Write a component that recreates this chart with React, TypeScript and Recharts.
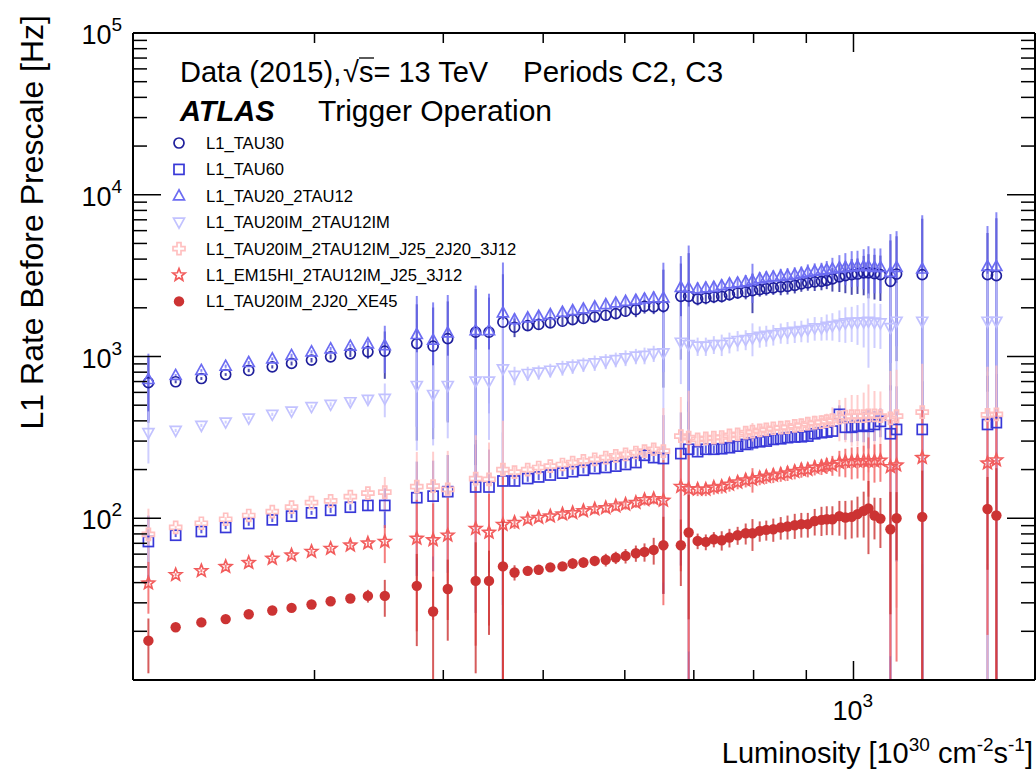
import React from 'react';
import { ScatterChart, Scatter, XAxis, YAxis, ErrorBar } from 'recharts';

const FONT = '"Liberation Sans", Arial, Helvetica, sans-serif';

// luminosity of each lumi-block group [10^30 cm-2 s-1]
const lumi = [
  207, 220, 233, 246, 259, 273, 285, 298, 311, 325, 338, 351,
  377, 391, 404, 430, 443,
  457, 469, 483, 495, 508, 522, 534, 547, 561, 575, 588, 601, 615, 627, 640, 654,
  680, 692, 706, 719, 732, 745, 758, 772, 786, 798, 811, 823, 836, 850, 863, 877, 890, 903, 917, 931,
  942, 954, 969, 982, 996, 1009, 1023, 1034, 1048, 1062, 1086, 1101, 1166, 1349, 1376,
];

const tau30 = [
  689, 698, 731, 774, 820, 863, 906, 949, 995, 1039, 1069, 1078,
  1202, 1158, 1291, 1413, 1413,
  1629, 1517, 1553, 1578, 1614, 1652, 1690, 1718, 1758, 1799, 1841, 1905, 1950, 2042, 2028, 2042,
  2355, 2355, 2270, 2301, 2336, 2355, 2415, 2472, 2506, 2553, 2594, 2630, 2655, 2692, 2716, 2754, 2812, 2851, 2891, 2917,
  2958, 3020, 3105, 3162, 3206, 3236, 3289, 3289, 3251, 3206, 2917, 3236, 3206, 3206, 3162,
];
const tau30Err = [
  300, 15, 15, 15, 20, 20, 25, 30, 35, 45, 100, 350,
  900, 850, 900, 1200, 900,
  1600, 200, 100, 100, 100, 100, 100, 120, 120, 130, 140, 150, 200, 200, 200, 1400,
  1400, 2000, 200, 200, 200, 200, 200, 200, 250, 700, 250, 250, 250, 300, 300, 300, 300, 300, 350, 350,
  350, 500, 600, 700, 800, 800, 900, 1000, 1000, 1000, 2300, 2300, 3900, 2600, 4000,
];

const tau60 = [
  71.8, 78.5, 82.8, 87.7, 92.8, 97.7, 103, 108, 112, 117, 120, 120,
  134, 137, 146, 156, 156,
  170, 170, 176, 180, 185, 190, 194, 198, 203, 206, 210, 215, 221, 245, 237, 234,
  251, 267, 258, 267, 267, 269, 273, 279, 286, 293, 297, 300, 307, 310, 315, 318, 319, 322, 333, 338,
  341, 346, 439, 365, 365, 370, 375, 370, 380, 397, 333, 354, 354, 380, 390,
];
const tau60Err = [
  32, 2, 2, 2, 3, 3, 3, 3, 4, 5, 8, 33,
  90, 90, 100, 130, 110,
  170, 12, 8, 8, 8, 8, 9, 9, 10, 10, 11, 12, 13, 14, 15, 200,
  200, 260, 15, 15, 15, 16, 16, 17, 18, 30, 18, 19, 20, 20, 21, 22, 22, 23, 24, 25,
  26, 28, 60, 60, 70, 70, 80, 100, 80, 80, 330, 300, 350, 380, 390,
];

const tau20 = [
  721, 764, 820, 871, 918, 968, 1015, 1069, 1116, 1158, 1197, 1169,
  1368, 1261, 1400, 1445, 1445,
  1862, 1690, 1734, 1774, 1816, 1878, 1923, 1968, 2028, 2094, 2143, 2193, 2228, 2270, 2301, 2301,
  2679, 2655, 2618, 2655, 2679, 2742, 2812, 2851, 2891, 2944, 3020, 3062, 3105, 3133, 3162, 3206, 3251, 3311, 3365, 3396,
  3443, 3475, 3532, 3556, 3581, 3606, 3606, 3606, 3556, 3556, 3311, 3556, 3475, 3606, 3606,
];
const tau20Err = [
  320, 15, 15, 20, 20, 20, 25, 25, 30, 35, 60, 380,
  1000, 900, 1000, 1300, 1000,
  1950, 150, 120, 120, 130, 130, 140, 140, 150, 150, 160, 170, 200, 200, 220, 1500,
  1500, 2200, 250, 250, 250, 250, 250, 250, 300, 800, 300, 300, 300, 350, 350, 350, 350, 400, 400, 400,
  450, 600, 700, 800, 900, 900, 1000, 1200, 1100, 1100, 2400, 2400, 4000, 2800, 4200,
];

const tau20im = [
  338, 349, 375, 393, 416, 439, 459, 490, 506, 525, 543, 551,
  662, 582, 662, 705, 705,
  839, 764, 785, 800, 822, 851, 871, 893, 914, 935, 957, 982, 1005, 1015, 1045, 1054,
  1225, 1186, 1158, 1158, 1186, 1186, 1225, 1256, 1274, 1303, 1334, 1349, 1368, 1400, 1413, 1432, 1445, 1468, 1503, 1503,
  1538, 1553, 1578, 1614, 1629, 1629, 1637, 1652, 1629, 1614, 1510, 1652, 1652, 1652, 1652,
];
const tau20imErr = [
  120, 8, 8, 8, 10, 10, 12, 12, 15, 20, 30, 130,
  400, 300, 350, 400, 400,
  850, 100, 80, 80, 80, 90, 90, 90, 100, 100, 100, 110, 110, 120, 120, 800,
  550, 850, 150, 150, 150, 180, 180, 180, 180, 300, 200, 200, 200, 200, 220, 220, 220, 250, 250, 250,
  280, 300, 350, 400, 400, 450, 500, 800, 500, 500, 1200, 1200, 1600, 1600, 1650,
];

const jets = [
  79.6, 87.7, 93.1, 98.6, 104, 110, 117, 125, 128, 136, 143, 145,
  157, 158, 151, 176, 174,
  200, 193, 200, 206, 210, 215, 221, 226, 231, 237, 243, 248, 255, 260, 267, 260,
  322, 315, 307, 312, 315, 318, 325, 330, 338, 343, 349, 354, 360, 363, 366, 372, 377, 385, 390, 393,
  399, 405, 419, 425, 428, 428, 428, 432, 432, 428, 414, 428, 453, 435, 439,
];
const jetsErr = [
  35, 2, 2, 3, 3, 3, 4, 4, 5, 6, 8, 35,
  100, 100, 110, 150, 120,
  200, 15, 12, 12, 12, 13, 13, 14, 15, 15, 16, 17, 18, 20, 22, 220,
  240, 300, 25, 25, 25, 25, 26, 27, 28, 45, 30, 30, 32, 33, 34, 35, 36, 38, 40, 42,
  44, 80, 120, 130, 150, 150, 170, 240, 180, 180, 400, 400, 450, 430, 440,
];

const em15 = [
  39.7, 44.7, 47.3, 50.2, 53.1, 56.4, 59.1, 62.3, 65.0, 68.1, 70.1, 71.8,
  75.0, 73.5, 78.5, 86.3, 81.7,
  91.4, 94.0, 98.6, 101, 103, 106, 108, 111, 114, 116, 119, 122, 125, 130, 132, 129,
  157, 152, 151, 151, 155, 157, 162, 167, 172, 174, 178, 181, 184, 187, 190, 194, 199, 200, 206, 208,
  212, 213, 221, 224, 224, 226, 226, 226, 226, 228, 208, 213, 237, 219, 229,
];
const em15Err = [
  14, 1, 1, 1.5, 1.5, 1.5, 2, 2, 2, 3, 4, 19,
  55, 50, 55, 70, 60,
  90, 8, 6, 6, 6, 7, 7, 7, 8, 8, 8, 9, 9, 10, 10, 100,
  110, 150, 14, 14, 15, 15, 16, 16, 17, 30, 18, 18, 19, 19, 20, 20, 21, 21, 22, 23,
  24, 30, 40, 45, 50, 50, 55, 90, 60, 60, 200, 200, 230, 200, 225,
];

const xe45 = [
  17.5, 21.2, 22.7, 23.8, 25.5, 26.9, 27.9, 29.3, 30.7, 31.9, 33.1, 33.1,
  38.2, 26.5, 36.5, 41.0, 41.0,
  50.4, 46.2, 47.3, 48.0, 49.7, 50.4, 52.5, 53.3, 54.5, 55.3, 57.1, 58.5, 60.8, 61.9, 63.7, 68.1,
  68.1, 81.7, 72.4, 71.4, 74.1, 73.1, 76.0, 78.5, 80.8, 80.8, 83.6, 84.7, 85.5, 87.7, 88.9, 90.5, 91.9, 91.9, 96.2, 97.7,
  98.6, 98.6, 103, 101, 102, 106, 111, 115, 104, 99.5, 85.5, 100, 102, 114, 104,
];
const xe45Err = [
  6.5, 0.5, 0.5, 0.6, 0.6, 0.7, 0.8, 0.9, 1, 1.5, 3, 8.5,
  22, 17, 19, 30, 22,
  48, 5, 3, 3, 3, 3, 4, 4, 4, 5, 5, 6, 7, 8, 12, 34,
  30, 58, 8, 8, 8, 10, 10, 10, 12, 18, 12, 12, 14, 14, 15, 16, 16, 16, 18, 20,
  20, 20, 25, 27, 27, 30, 35, 55, 30, 34, 60, 45, 95, 66, 100,
];

const xTicks = [300, 400, 500, 600, 700, 800, 900, 1000];
const yTicks = [
  10, 20, 30, 40, 50, 60, 70, 80, 90,
  100, 200, 300, 400, 500, 600, 700, 800, 900,
  1000, 2000, 3000, 4000, 5000, 6000, 7000, 8000, 9000,
  10000, 20000, 30000, 40000, 50000, 60000, 70000, 80000, 90000, 100000,
];

type Kind = 'circle' | 'square' | 'triUp' | 'triDown' | 'plus' | 'star' | 'dot';

const series: { name: string; values: number[]; errors: number[]; color: string; kind: Kind }[] = [
  { name: 'L1_TAU30', values: tau30, errors: tau30Err, color: '#1f1f9c', kind: 'circle' },
  { name: 'L1_TAU60', values: tau60, errors: tau60Err, color: '#3838d8', kind: 'square' },
  { name: 'L1_TAU20_2TAU12', values: tau20, errors: tau20Err, color: '#6c6cf2', kind: 'triUp' },
  { name: 'L1_TAU20IM_2TAU12IM', values: tau20im, errors: tau20imErr, color: '#c2c2ff', kind: 'triDown' },
  { name: 'L1_TAU20IM_2TAU12IM_J25_2J20_3J12', values: jets, errors: jetsErr, color: '#ffc0c0', kind: 'plus' },
  { name: 'L1_EM15HI_2TAU12IM_J25_3J12', values: em15, errors: em15Err, color: '#f25c5c', kind: 'star' },
  { name: 'L1_TAU20IM_2J20_XE45', values: xe45, errors: xe45Err, color: '#cc3333', kind: 'dot' },
];

const Y_MIN = 10;

function Marker({ kind, color, cx, cy }: { kind: Kind; color: string; cx: number; cy: number }) {
  const sw = 1.7;
  switch (kind) {
    case 'circle':
      return <circle cx={cx} cy={cy} r={5} fill="none" stroke={color} strokeWidth={sw} />;
    case 'square':
      return <rect x={cx - 5} y={cy - 5} width={10} height={10} fill="none" stroke={color} strokeWidth={sw} />;
    case 'triUp':
      return (
        <polygon
          points={`${cx},${cy - 6} ${cx - 5.5},${cy + 4} ${cx + 5.5},${cy + 4}`}
          fill="none" stroke={color} strokeWidth={sw}
        />
      );
    case 'triDown':
      return (
        <polygon
          points={`${cx},${cy + 6} ${cx - 5.5},${cy - 4} ${cx + 5.5},${cy - 4}`}
          fill="none" stroke={color} strokeWidth={sw}
        />
      );
    case 'plus': {
      const a = 2, b = 6;
      const pts = [
        [-a, -b], [a, -b], [a, -a], [b, -a], [b, a], [a, a],
        [a, b], [-a, b], [-a, a], [-b, a], [-b, -a], [-a, -a],
      ].map(([dx, dy]) => `${cx + dx},${cy + dy}`).join(' ');
      return <polygon points={pts} fill="none" stroke={color} strokeWidth={sw} />;
    }
    case 'star': {
      const pts: string[] = [];
      for (let k = 0; k < 10; k++) {
        const r = k % 2 === 0 ? 6.5 : 2.8;
        const ang = -Math.PI / 2 + (k * Math.PI) / 5;
        pts.push(`${cx + r * Math.cos(ang)},${cy + r * Math.sin(ang)}`);
      }
      return <polygon points={pts.join(' ')} fill="none" stroke={color} strokeWidth={sw} />;
    }
    default:
      return <circle cx={cx} cy={cy} r={5.2} fill={color} />;
  }
}

const isMajor = (v: number) => Math.abs(Math.log10(v) - Math.round(Math.log10(v))) < 1e-6;

function LeftTick(props: any) {
  const { x, y, payload } = props;
  const v = payload.value;
  const major = isMajor(v);
  return (
    <g>
      <line x1={x} x2={x + (major ? 28 : 14)} y1={y} y2={y} stroke="#000" strokeWidth={1.5} />
      {major && v > 10 && (
        <text x={x - 11} y={y + 11} textAnchor="end" fontSize={27} fontFamily={FONT} fill="#000">
          10<tspan dy={-13} fontSize={19}>{Math.round(Math.log10(v))}</tspan>
        </text>
      )}
    </g>
  );
}

function RightTick(props: any) {
  const { x, y, payload } = props;
  const major = isMajor(payload.value);
  return <line x1={x} x2={x - (major ? 28 : 14)} y1={y} y2={y} stroke="#000" strokeWidth={1.5} />;
}

function BottomTick(props: any) {
  const { x, y, payload } = props;
  const major = isMajor(payload.value);
  return (
    <g>
      <line x1={x} x2={x} y1={y} y2={y - (major ? 19 : 10)} stroke="#000" strokeWidth={1.5} />
      {major && (
        <text x={x - 21} y={y + 40} fontSize={27} fontFamily={FONT} fill="#000">
          10<tspan dy={-13} fontSize={19}>{Math.round(Math.log10(payload.value))}</tspan>
        </text>
      )}
    </g>
  );
}

function TopTick(props: any) {
  const { x, y, payload } = props;
  const major = isMajor(payload.value);
  return <line x1={x} x2={x} y1={y} y2={y + (major ? 19 : 10)} stroke="#000" strokeWidth={1.5} />;
}

export default function App() {
  const W = 1036;
  const H = 769;
  return (
    <div style={{ position: 'absolute', left: 0, top: 0, width: W, height: H, background: '#fff' }}>
      <ScatterChart width={W} height={H} margin={{ top: 32, right: 0, bottom: 49, left: 93 }}>
        <XAxis
          xAxisId="b" type="number" dataKey="x" scale="log" domain={[200, 1500]} allowDataOverflow
          ticks={xTicks} interval={0} tick={<BottomTick />} tickLine={false} tickSize={0} tickMargin={0}
          height={40} axisLine={{ stroke: '#000', strokeWidth: 2 }}
        />
        <XAxis
          xAxisId="t" orientation="top" type="number" dataKey="x" scale="log" domain={[200, 1500]} allowDataOverflow
          ticks={xTicks} interval={0} tick={<TopTick />} tickLine={false} tickSize={0} tickMargin={0}
          height={1} axisLine={{ stroke: '#000', strokeWidth: 2 }}
        />
        <YAxis
          yAxisId="l" type="number" dataKey="y" scale="log" domain={[Y_MIN, 100000]} allowDataOverflow
          ticks={yTicks} interval={0} tick={<LeftTick />} tickLine={false} tickSize={0} tickMargin={0}
          width={40} axisLine={{ stroke: '#000', strokeWidth: 2 }}
        />
        <YAxis
          yAxisId="r" orientation="right" type="number" dataKey="y" scale="log" domain={[Y_MIN, 100000]} allowDataOverflow
          ticks={yTicks} interval={0} tick={<RightTick />} tickLine={false} tickSize={0} tickMargin={0}
          width={1} axisLine={{ stroke: '#000', strokeWidth: 2 }}
        />
        {series.map((s) => {
          const data = lumi.map((x, i) => ({
            x,
            y: s.values[i],
            err: [Math.min(s.errors[i], s.values[i] - Y_MIN), s.errors[i]],
          }));
          return (
            <Scatter
              key={s.name}
              name={s.name}
              data={data}
              xAxisId="b"
              yAxisId="l"
              isAnimationActive={false}
              shape={(p: any) => <Marker kind={s.kind} color={s.color} cx={p.cx} cy={p.cy} />}
            >
              <ErrorBar dataKey="err" direction="y" width={0} stroke={s.color} strokeWidth={2} strokeOpacity={0.8} />
            </Scatter>
          );
        })}
      </ScatterChart>

      <svg width={W} height={H} style={{ position: 'absolute', left: 0, top: 0, pointerEvents: 'none' }}>
        <g fontFamily={FONT} fill="#000">
          <text x={180} y={82} fontSize={29}>Data (2015),</text>
          <text x={343} y={82} fontSize={29}>√s= 13 TeV</text>
          <line x1={359} x2={374} y1={58} y2={58} stroke="#000" strokeWidth={1.3} />
          <text x={523} y={82} fontSize={29.5}>Periods C2, C3</text>
          <text x={180} y={121} fontSize={29} fontWeight="bold" fontStyle="italic">ATLAS</text>
          <text x={318} y={121} fontSize={30}>Trigger Operation</text>

          {series.map((s, i) => {
            const cy = 143 + i * 26.4;
            return (
              <g key={s.name}>
                <Marker kind={s.kind} color={s.color} cx={179} cy={cy} />
                <text x={206} y={cy + 6} fontSize={16.6}>{s.name}</text>
              </g>
            );
          })}

          <text transform="translate(43, 15) rotate(-90)" textAnchor="end" fontSize={32}>
            L1 Rate Before Prescale [Hz]
          </text>
          <text x={1033} y={763} textAnchor="end" fontSize={29}>
            Luminosity [10<tspan dy={-12} fontSize={19}>30</tspan>
            <tspan dy={12}> cm</tspan>
            <tspan dy={-12} fontSize={19}>-2</tspan>
            <tspan dy={12}>s</tspan>
            <tspan dy={-12} fontSize={19}>-1</tspan>
            <tspan dy={12}>]</tspan>
          </text>
        </g>
      </svg>
    </div>
  );
}
